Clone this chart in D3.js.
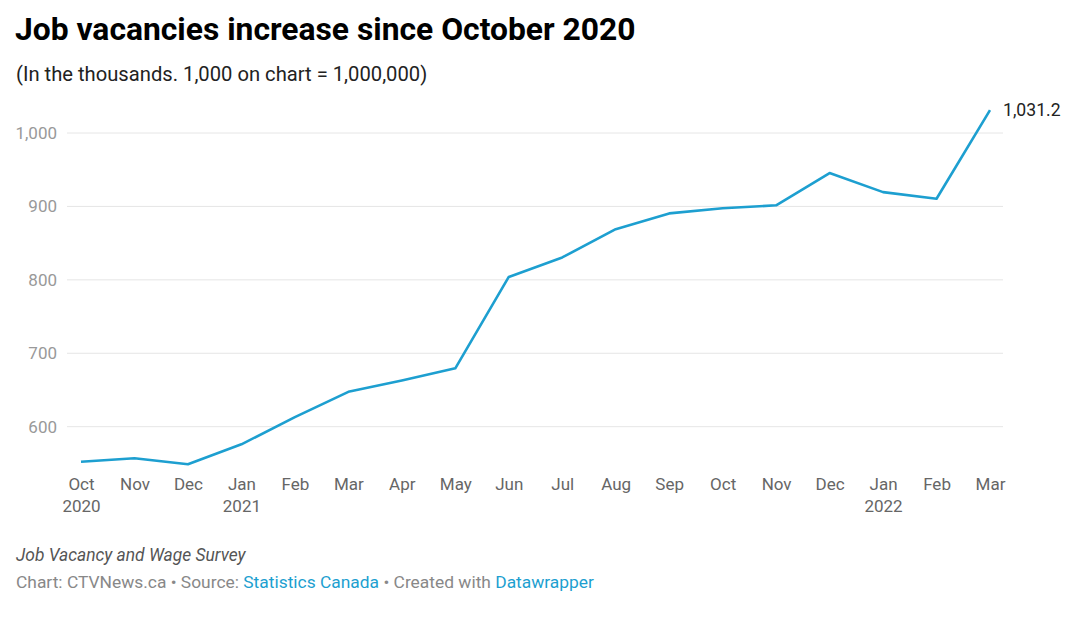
<!DOCTYPE html>
<html><head><meta charset="utf-8">
<script src="https://cdn.jsdelivr.net/npm/d3@7"></script>
<style>body{margin:0;background:#fff;font-family:Roboto,"Noto Sans",sans-serif;}</style>
</head><body>
<svg id="c" width="1080" height="620"></svg>
<script>
const months = ["Oct","Nov","Dec","Jan","Feb","Mar","Apr","May","Jun","Jul","Aug","Sep","Oct","Nov","Dec","Jan","Feb","Mar"];
const years = ["2020","","","2021","","","","","","","","","","","","2022","",""];
const values = [552.3,557.0,548.8,576.0,613.0,647.5,663.0,679.5,804.0,830.5,869.0,890.5,897.5,901.5,945.5,919.5,910.5,1031.2];
const yTicks = [600,700,800,900,1000];

const svg = d3.select("#c");
svg.append("text").attr("x",15).attr("y",40).attr("font-size",31.8).attr("font-weight",700).attr("fill","#000")
  .text("Job vacancies increase since October 2020");
svg.append("text").attr("x",16).attr("y",81).attr("font-size",20.2).attr("fill","#222")
  .text("(In the thousands. 1,000 on chart = 1,000,000)");

const x = d3.scaleLinear().domain([0, months.length-1]).range([81, 990]);
const y = d3.scaleLinear().domain([600,1000]).range([426.7,133]);

const g = svg.append("g");
const yAxis = d3.axisLeft(y).tickValues(yTicks).tickSize(0).tickFormat(d3.format(","));
const ya = g.append("g").attr("transform","translate(57,0)").call(yAxis);
ya.select(".domain").remove();
ya.selectAll("text").attr("font-size",17).attr("fill","#999").attr("font-family","Roboto").attr("dy","0.32em").attr("x",0);

g.selectAll("line.grid").data(yTicks).enter().append("line")
  .attr("x1",67).attr("x2",1003).attr("y1",d=>y(d)).attr("y2",d=>y(d))
  .attr("stroke","#e6e6e6").attr("stroke-width",1);

const xa = g.append("g").attr("transform","translate(0,478)")
  .call(d3.axisBottom(x).tickValues(d3.range(months.length)).tickSize(0).tickFormat(i=>months[i]));
xa.select(".domain").remove();
xa.selectAll("text").attr("font-size",17).attr("fill","#666").attr("font-family","Roboto").attr("dy","0.71em").attr("y",0);
xa.selectAll(".tick").append("text").attr("y",22).attr("dy","0.71em").attr("font-size",17).attr("fill","#666")
  .attr("font-family","Roboto").attr("text-anchor","middle").text(i=>years[i]);

const line = d3.line().x((d,i)=>x(i)).y(d=>y(d));
g.append("path").datum(values).attr("d",line).attr("fill","none").attr("stroke","#1d9fd0").attr("stroke-width",2.6).attr("stroke-linejoin","round");

const last = values.length-1;
g.append("text").attr("x",x(last)+13).attr("y",y(values[last])+6).attr("font-size",17.6).attr("fill","#222")
  .text(d3.format(",.1f")(values[last]));

svg.append("text").attr("x",16).attr("y",561).attr("font-size",17.4).attr("font-style","italic").attr("fill","#555")
  .text("Job Vacancy and Wage Survey");
const f = svg.append("text").attr("x",16).attr("y",588).attr("font-size",17.4).attr("fill","#888");
f.append("tspan").text("Chart: CTVNews.ca • Source: ");
f.append("tspan").attr("fill","#1d9fd0").text("Statistics Canada");
f.append("tspan").text(" • Created with ");
f.append("tspan").attr("fill","#1d9fd0").text("Datawrapper");
</script>
</body></html>
